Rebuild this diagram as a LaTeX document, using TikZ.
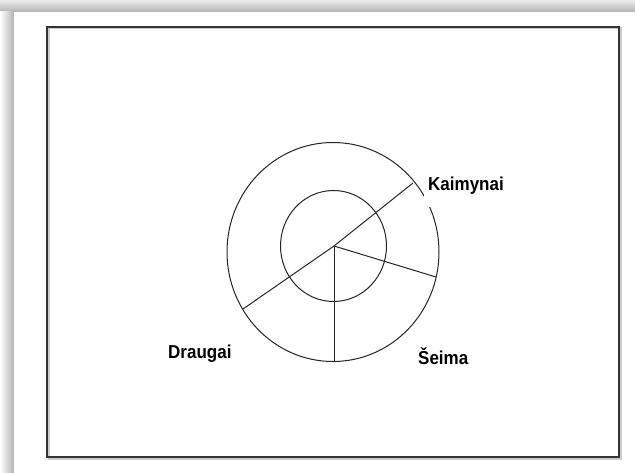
\documentclass[tikz,border=0pt]{standalone}
\usepackage{fontspec}
\setmainfont{Liberation Sans}
\newcommand{\tallword}[1]{\scalebox{1}[1.1]{#1}}
\begin{document}
\begin{tikzpicture}[x=1pt,y=-1pt,
  ring/.style={draw=black!85, line width=1pt},
  spoke/.style={draw=black!85, line width=1pt},
  lbl/.style={font=\fontsize{17}{20}\selectfont\bfseries, text=black, inner sep=0pt}]
\useasboundingbox (0,0) rectangle (635,473);
% page shadow
\shade[top color=gray!15, bottom color=gray!60] (0,0) rectangle (635,12);
\shade[left color=white, right color=gray!60] (0,12) rectangle (14,473);
\fill[white] (14,12) rectangle (635,473);
% frame
\draw[gray!40, line width=2pt] (48.5,28.5) rectangle (620.5,458.5);
\draw[black!80, line width=2pt] (47,27) rectangle (619,457);
% circles
\path[ring] (333,252) ellipse [x radius=106, y radius=109.5];
\path[ring] (333.5,246) ellipse [x radius=53, y radius=55.5];
% spokes
\coordinate (c) at (334,246);
\coordinate (k) at (413,183);
\coordinate (d) at (243,309);
\coordinate (s) at (436,277);
\coordinate (b) at (334,361);
\draw[spoke] (c) -- (k);
\draw[spoke] (c) -- (d);
\draw[spoke] (c) -- (s);
\draw[spoke] (c) -- (b);
% labels
\node[lbl, fill=white, anchor=base west, inner xsep=4pt, text depth=16pt] (kaim) at (424,191) {\tallword{Kaimynai}};
\node[lbl, anchor=base west] (drau) at (168,359) {\tallword{Draugai}};
\node[lbl, anchor=base west] (seim) at (418,364) {\tallword{Šeima}};
\end{tikzpicture}
\end{document}
